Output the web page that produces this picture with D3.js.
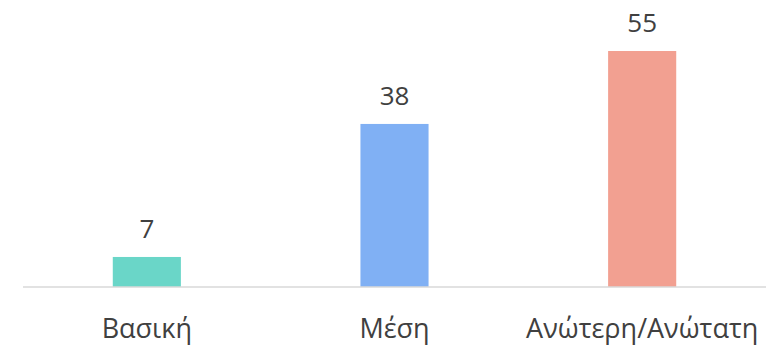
<!DOCTYPE html>
<html>
<head>
<meta charset="utf-8">
<script src="https://cdn.jsdelivr.net/npm/d3@7"></script>
<style>
  html, body { margin: 0; padding: 0; background: #fff; }
  svg { display: block; font-family: "Open Sans", "Noto Sans", sans-serif; }
</style>
</head>
<body>
<svg id="chart" width="784" height="350"></svg>
<script>
// Education level shares (%)
const categories = ["Βασική", "Μέση", "Ανώτερη/Ανώτατη"];
const values = [7, 38, 55];
const colors = ["#6AD6C8", "#80B0F4", "#F2A091"];

const svg = d3.select("#chart");
const left = 23, right = 766, baseY = 287;

const x = d3.scaleBand()
  .domain(categories)
  .range([left, right])
  .paddingInner(0.725)
  .paddingOuter(0.3625);

const y = d3.scaleLinear()
  .domain([0, 55])
  .range([baseY, 51]);

// bars
svg.selectAll("rect.bar")
  .data(values)
  .enter().append("rect")
  .attr("class", "bar")
  .attr("x", (d, i) => x(categories[i]))
  .attr("width", x.bandwidth())
  .attr("y", d => y(d))
  .attr("height", d => baseY - y(d))
  .attr("fill", (d, i) => colors[i]);

// category axis
const axis = svg.append("g")
  .attr("transform", `translate(0,${baseY})`)
  .call(d3.axisBottom(x).tickSize(0).tickPadding(0));
axis.select(".domain").attr("stroke", "#D9D9D9").attr("stroke-width", 1.5)
  .attr("d", `M${left},0H${right}`);
axis.selectAll("text")
  .attr("y", 51)
  .attr("dy", 0)
  .attr("fill", "#404040")
  .style("font-size", "27px")
  .style("font-family", "'Open Sans', 'Noto Sans', sans-serif");

// value labels
svg.selectAll("text.val")
  .data(values)
  .enter().append("text")
  .attr("class", "val")
  .attr("x", (d, i) => x(categories[i]) + x.bandwidth() / 2)
  .attr("y", d => y(d) - 19)
  .attr("text-anchor", "middle")
  .attr("fill", "#404040")
  .style("font-size", "26px")
  .text(d => d);
</script>
</body>
</html>
